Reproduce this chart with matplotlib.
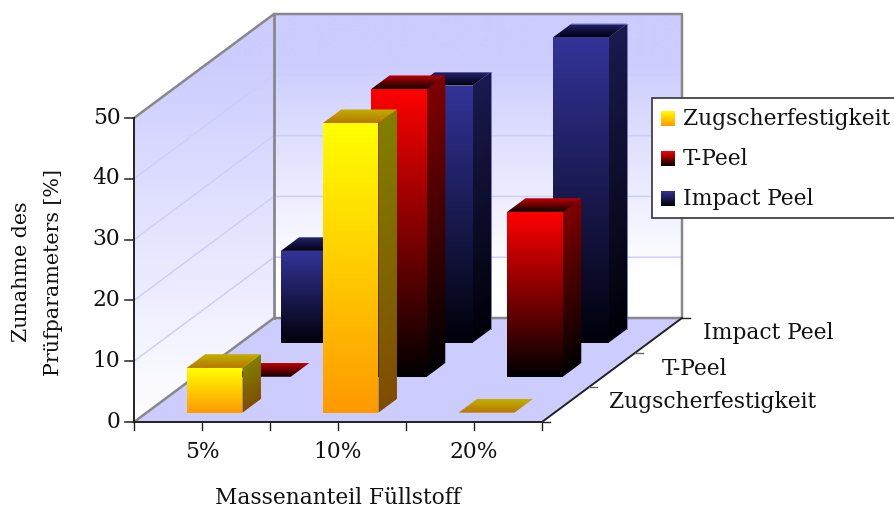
import numpy as np
import matplotlib
matplotlib.use("Agg")
import matplotlib.pyplot as plt
from matplotlib.patches import Polygon, Rectangle
from matplotlib.transforms import Affine2D

categories = ["5%", "10%", "20%"]
series_names = ["Zugscherfestigkeit", "T-Peel", "Impact Peel"]
zugscher = [7.35, 47.6, 0.0]
t_peel = [0.0, 47.3, 27.1]
impact_peel = [15.1, 42.3, 50.2]
value_ticks = [0, 10, 20, 30, 40, 50]
x_title = "Massenanteil Füllstoff"
y_title = "Zunahme des\nPrüfparameters [%]"

series_values = [zugscher, t_peel, impact_peel]
W, H = 895, 509
FONT = "DejaVu Serif"
FS = 15.7
TXT = "#111111"

# oblique projection, pixel geometry of the chart box
ORG = (134.0, 422.0)
CAT_W = 136.0
DX, DY = 140.0, -104.0
VAL = 6.08
VMAX = 50
DEPTH_FRONT = [0.09, 0.435, 0.7625]
BAR_DEPTH = 0.132
BAR_OFF = 0.295
BAR_W = 0.41


def proj(cat, depth, val):
    return (ORG[0] + CAT_W * cat + DX * depth, ORG[1] + DY * depth - VAL * val)


styles = [
    dict(front=((255, 255, 0), (255, 153, 0)), side=((128, 128, 0), (128, 77, 0)),
         top=((192, 176, 0), (184, 120, 0)), edge=None),
    dict(front=((255, 0, 0), (0, 0, 0)), side=((128, 0, 0), (0, 0, 0)),
         top=((192, 0, 0), (16, 0, 0)), edge=None),
    dict(front=((51, 51, 153), (0, 0, 10)), side=((26, 26, 78), (0, 0, 8)),
         top=((36, 36, 110), (0, 0, 16)), edge="#6a6ab4"),
]

fig = plt.figure(figsize=(W / 100, H / 100), dpi=100)
ax = fig.add_axes([0, 0, 1, 1])
ax.set_xlim(0, W)
ax.set_ylim(H, 0)
ax.axis("off")


def face(a, b, c, d, grad, z, n=256):
    """a,b top edge; d,c bottom edge; colour runs from top to bottom."""
    a, b, c, d = map(lambda p: np.array(p, float), (a, b, c, d))
    e_u, e_v = b - a, d - a
    det = e_u[0] * e_v[1] - e_u[1] * e_v[0]
    if abs(det) < 1e-6:
        return
    c0, c1 = np.array(grad[0]) / 255, np.array(grad[1]) / 255
    t = np.linspace(0, 1, n)[:, None, None]
    arr = np.repeat(c0[None, None, :] + (c1 - c0)[None, None, :] * t, 2, axis=1)
    mat = np.array([[e_u[0], e_v[0], a[0]], [e_u[1], e_v[1], a[1]], [0, 0, 1]])
    im = ax.imshow(arr, extent=(0, 1, 1, 0), aspect="auto", zorder=z, interpolation="bilinear")
    im.set_transform(Affine2D(mat) + ax.transData)
    p = Polygon([a, b, c, d], closed=True, transform=ax.transData, fc="none", ec="none")
    ax.add_patch(p)
    im.set_clip_path(p)


def wall(pts, y_stops, cols, z):
    ys = np.arange(0, H + 1)
    cols = np.array(cols) / 255
    arr = np.stack([np.interp(ys, y_stops, cols[:, k]) for k in range(3)], axis=1)[:, None, :]
    im = ax.imshow(arr, extent=(0, W, H, 0), aspect="auto", zorder=z, interpolation="bilinear")
    p = Polygon(pts, closed=True, transform=ax.transData, fc="none", ec="none")
    ax.add_patch(p)
    im.set_clip_path(p)


ncat = len(categories)
c_fl, c_fr, c_bl, c_br = proj(0, 0, 0), proj(ncat, 0, 0), proj(0, 1, 0), proj(ncat, 1, 0)
c_tl, c_tb, c_tr = proj(0, 0, VMAX), proj(0, 1, VMAX), proj(ncat, 1, VMAX)

wall_stops = [14, 60, 270]
wall_cols = [(204, 204, 255), (204, 204, 255), (255, 255, 255)]
wall([c_bl, c_br, c_tr, c_tb], wall_stops, wall_cols, 1)
wall_stops2 = [14, 60, 420]
wall([c_fl, c_bl, c_tb, c_tl], wall_stops2, wall_cols, 1)
ax.add_patch(Polygon([c_fl, c_fr, c_br, c_bl], closed=True, fc="#ccccff", ec="none", zorder=1))

# gridlines on walls
for v in value_ticks[1:-1]:
    p0, p1, p2 = proj(0, 0, v), proj(0, 1, v), proj(ncat, 1, v)
    ax.plot([p0[0], p1[0], p2[0]], [p0[1], p1[1], p2[1]], color="#ccccff", lw=1.0, zorder=2)

# wall frame
G = "#888888"
ax.plot([c_tl[0], c_tb[0], c_tr[0], c_br[0], c_bl[0], c_fl[0]],
        [c_tl[1], c_tb[1], c_tr[1], c_br[1], c_bl[1], c_fl[1]], color=G, lw=1.8, zorder=3)
ax.plot([c_bl[0], c_tb[0]], [c_bl[1], c_tb[1]], color=G, lw=2.0, zorder=3)

# axes lines + ticks
AX = "#222222"
ax.plot([c_tl[0], c_fl[0], c_fr[0], c_br[0]], [c_tl[1], c_fl[1], c_fr[1], c_br[1]],
        color=AX, lw=1.4, zorder=9, solid_joinstyle="miter")
for v in value_ticks:
    p = proj(0, 0, v)
    ax.plot([p[0] - 9, p[0]], [p[1], p[1]], color=AX, lw=1.1, zorder=9)
    ax.text(p[0] - 13.5, p[1] + 5.5, str(v), ha="right", va="baseline", family=FONT, fontsize=FS, color=TXT)
for k in range(2 * ncat + 1):
    p = proj(k / 2, 0, 0)
    ax.plot([p[0], p[0]], [p[1], p[1] + 8], color=AX, lw=1.0, zorder=9)
for i, c in enumerate(categories):
    p = proj(i + 0.5, 0, 0)
    ax.text(p[0], 458.5, c, ha="center", va="baseline", family=FONT, fontsize=FS, color=TXT)
for k in range(len(series_names) + 1):
    p = proj(ncat, k / 3, 0)
    ax.plot([p[0], p[0] + 8], [p[1], p[1]], color=AX if k in (0, 3) else "#666666", lw=1.0, zorder=9)

label_right = [816, 727, 833]
label_base = [408, 375, 339]
for name, xr, yy in zip(series_names, label_right, label_base):
    ax.text(xr, yy, name, ha="right", va="baseline", family=FONT, fontsize=FS, color=TXT)

ax.text(338, 503.5, x_title, ha="center", va="baseline", family=FONT, fontsize=FS, color=TXT)
ax.text(37.5, 272, y_title, ha="center", va="center", rotation=90, family=FONT, fontsize=14.9,
        color=TXT, linespacing=1.85, multialignment="center")

# bars, back to front
z = 4.0
for s in range(len(series_names) - 1, -1, -1):
    st = styles[s]
    d0 = DEPTH_FRONT[s]
    d1 = d0 + BAR_DEPTH
    for i, v in enumerate(series_values[s]):
        x0, x1 = i + BAR_OFF, i + BAR_OFF + BAR_W
        z += 0.01
        face(proj(x1, d0, v), proj(x1, d1, v), proj(x1, d1, 0), proj(x1, d0, 0), st["side"], z)
        face(proj(x0, d1, v), proj(x1, d1, v), proj(x1, d0, v), proj(x0, d0, v), st["top"], z)
        face(proj(x0, d0, v), proj(x1, d0, v), proj(x1, d0, 0), proj(x0, d0, 0), st["front"], z)
        if st["edge"]:
            pts = [proj(x0, d1, v), proj(x1, d1, v), proj(x1, d1, 0)]
            ax.plot([q[0] for q in pts], [q[1] for q in pts], color=st["edge"], lw=0.6, zorder=z + 0.001)

# legend
ax.add_patch(Rectangle((652, 98), 260, 120, fc="white", ec="#333333", lw=1.2, zorder=10))
for k, name in enumerate(series_names):
    y0 = 111 + 40 * k
    face((661, y0), (675, y0), (675, y0 + 15), (661, y0 + 15), styles[k]["front"], 11)
    ax.text(683, y0 + 14, name, ha="left", va="baseline", family=FONT, fontsize=FS, color=TXT, zorder=11)

ax.set_xlim(0, W)
ax.set_ylim(H, 0)
fig.savefig("out.png", dpi=100)
